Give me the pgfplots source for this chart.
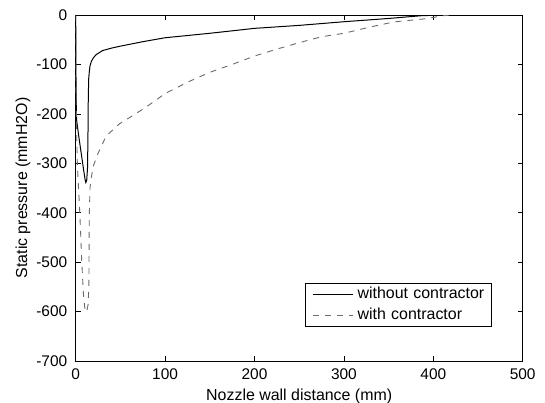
\documentclass[border=0pt]{standalone}
\usepackage{fontspec}
\setmainfont{Liberation Sans}
\usepackage{pgfplots}
\pgfplotsset{compat=1.18}
\definecolor{dashgray}{gray}{0.42}
\begin{document}
\fontsize{16}{19}\selectfont
\begin{tikzpicture}
\useasboundingbox (-75.7bp,-42bp) rectangle (469.3bp,361bp);
\begin{axis}[
  at={(0,0)}, anchor=south west,
  scale only axis, width=447bp, height=346bp,
  xmin=0, xmax=500, ymin=-700, ymax=0,
  xtick={0,100,...,500}, ytick={-700,-600,...,0},
  tick align=inside, major tick length=5bp,
  every tick/.style={black, line width=0.5bp},
  axis line style={line width=0.6bp},
  /pgf/number format/assume math mode=true,
  tick label style={font=\fontsize{15.5}{18}\selectfont},
  xticklabel style={yshift=-2.5bp},
  yticklabel style={xshift=-3bp},
  xlabel={Nozzle wall distance (mm)},
  ylabel={Static pressure (mmH2O)},
  xlabel style={at={(axis description cs:0.5,-0.081)}, anchor=north, inner sep=0pt, font=\fontsize{16}{19}\selectfont},
  ylabel style={at={(axis description cs:-0.118,0.5)}, anchor=center, inner sep=0pt, font=\fontsize{16}{19}\selectfont},
  legend cell align=left,
  legend image code/.code={\path[draw=none] (0bp,-4bp) rectangle (52.6bp,4bp); \draw[#1] (7.6bp,0bp) -- (47.6bp,0bp);},
  legend style={at={(axis description cs:0.931,0.098)}, anchor=south east,
    draw=black, line width=0.6bp, inner xsep=0pt, inner ysep=4bp,
    row sep=7bp, column sep=0pt,
    font=\fontsize{16}{19}\selectfont,
    nodes={inner sep=0pt, text width=134bp, align=left, text height=11bp, text depth=3bp}},
]
\addplot[black, line width=1bp] coordinates {
(0,0) (0.3,-120) (0.8,-200) (1.2,-215) (3,-240) (5,-265) (7,-290) (9,-315)
(10.5,-333) (11.3,-339) (12.3,-335) (13.2,-310) (13.7,-250) (14,-180)
(14.5,-130) (15.2,-115) (16,-103) (17.5,-94) (20,-86) (23,-80) (30,-72)
(40,-67) (50,-63) (75,-54) (100,-46) (150,-37) (200,-27) (250,-21)
(300,-13.6) (350,-7) (386,-1.5) (410,0) (420,0)
};
\addlegendentry{without contractor}
\addplot[dashgray, line width=0.9bp, dash pattern=on 6bp off 6bp] coordinates {
(0,0) (0.3,-120) (0.8,-210) (1.3,-260) (1.9,-305) (3,-345) (4.1,-382)
(5.5,-440) (6.7,-496) (8.6,-563) (10,-590) (11.2,-601) (12.5,-598)
(14,-585) (14.8,-540) (15,-450) (15.3,-400) (16,-350) (17.5,-328)
(19.8,-305) (25,-280) (34,-245) (49,-220) (66,-201) (79,-186) (100,-159)
(125,-136) (150,-116) (175,-100) (200,-83) (225,-69) (250,-56) (275,-44)
(300,-37) (330,-24) (356,-14) (389,-8) (400,-5) (410,-1.5) (420,0)
};
\addlegendentry{with contractor}
\end{axis}
\end{tikzpicture}
\end{document}
